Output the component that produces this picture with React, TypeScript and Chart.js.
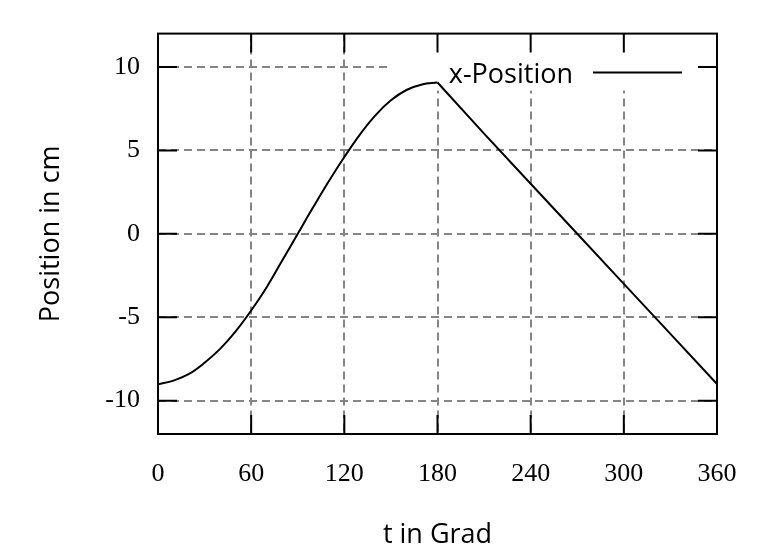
import React, { useEffect, useRef } from "react";
import { Chart, registerables } from "chart.js";

Chart.register(...registerables);

// crank angle in degrees and x-position in cm
// rising part (0..180) is curved, falling part (180..360) is straight
const tRise = [0, 10, 20, 30, 40, 50, 60, 70, 80, 90, 100, 110, 120, 130, 140, 150, 160, 170, 180];
const xRise = [-9.02, -8.8, -8.4, -7.73, -6.9, -5.85, -4.6, -3.2, -1.6, 0.0, 1.6, 3.15, 4.6, 5.95, 7.1, 8.0, 8.62, 8.95, 9.07];
const tFall = [180, 210, 240, 270, 300, 330, 360];
const xFall = [9.07, 6.0, 3.0, 0.0, -3.0, -6.0, -9.0];

const xTicks = [0, 60, 120, 180, 240, 300, 360];
const yTicks = [-10, -5, 0, 5, 10];

const SANS = "'Open Sans', sans-serif";
const SERIF = "'Liberation Serif', serif";
const TICK_LEN = 19;
const GRID = "#858585";

// gnuplot-like frame: inner ticks, opaque key box, key text
const framePlugin = {
  id: "frame",
  beforeDatasetsDraw(chart: any) {
    const { ctx, chartArea } = chart;
    ctx.save();
    ctx.fillStyle = "#fff";
    ctx.fillRect(chartArea.right - 325, chartArea.top, 306, 57);
    ctx.restore();
  },
  afterDraw(chart: any) {
    const { ctx, chartArea, scales } = chart;
    const { left, right, top, bottom } = chartArea;
    ctx.save();
    ctx.strokeStyle = "#000";
    ctx.lineWidth = 2;
    ctx.setLineDash([]);
    ctx.beginPath();
    xTicks.slice(1, -1).forEach((v) => {
      const px = scales.x.getPixelForValue(v);
      ctx.moveTo(px, bottom);
      ctx.lineTo(px, bottom - TICK_LEN);
      ctx.moveTo(px, top);
      ctx.lineTo(px, top + TICK_LEN);
    });
    yTicks.forEach((v) => {
      const py = scales.y.getPixelForValue(v);
      ctx.moveTo(left, py);
      ctx.lineTo(left + TICK_LEN, py);
      ctx.moveTo(right, py);
      ctx.lineTo(right - TICK_LEN, py);
    });
    ctx.stroke();
    ctx.strokeRect(left, top, right - left, bottom - top);

    // key
    ctx.fillStyle = "#000";
    ctx.font = `27px ${SANS}`;
    ctx.textAlign = "right";
    ctx.textBaseline = "alphabetic";
    ctx.fillText("x-Position", right - 144, top + 49);
    ctx.beginPath();
    ctx.moveTo(right - 124, top + 39);
    ctx.lineTo(right - 35, top + 39);
    ctx.stroke();
    ctx.restore();
  },
};

export default function App() {
  const canvasRef = useRef<HTMLCanvasElement | null>(null);
  const chartRef = useRef<Chart | null>(null);

  useEffect(() => {
    document.body.style.margin = "0";
    if (!canvasRef.current) return;
    const ctx = canvasRef.current.getContext("2d");
    if (!ctx) return;
    if (chartRef.current) chartRef.current.destroy();

    chartRef.current = new Chart(ctx, {
      type: "line",
      data: {
        datasets: [
          {
            label: "x-Position",
            data: tRise.map((t, i) => ({ x: t, y: xRise[i] })),
            borderColor: "#000",
            borderWidth: 2,
            pointRadius: 0,
            fill: false,
            tension: 0.4,
          },
          {
            label: "x-Position (fall)",
            data: tFall.map((t, i) => ({ x: t, y: xFall[i] })),
            borderColor: "#000",
            borderWidth: 2,
            pointRadius: 0,
            fill: false,
            tension: 0,
          },
        ],
      },
      options: {
        responsive: false,
        animation: false,
        layout: { padding: { left: 0, top: 33, right: 57, bottom: 0 } },
        plugins: {
          legend: { display: false },
          tooltip: { enabled: false },
        },
        scales: {
          x: {
            type: "linear",
            min: 0,
            max: 360,
            afterBuildTicks: (axis: any) => {
              axis.ticks = xTicks.map((v) => ({ value: v }));
            },
            afterFit: (axis: any) => {
              axis.height = 126;
            },
            ticks: {
              font: { family: SERIF, size: 26 },
              color: "#000",
              padding: 25,
              maxRotation: 0,
            },
            grid: {
              drawTicks: false,
              color: (c: any) =>
                c.tick && (c.tick.value === 0 || c.tick.value === 360) ? "rgba(0,0,0,0)" : GRID,
              lineWidth: 2,
            },
            border: { display: false, dash: [8, 5] },
            title: {
              display: true,
              text: "t in Grad",
              font: { family: SANS, size: 27 },
              color: "#000",
              padding: { top: 0, bottom: 8 },
            },
          },
          y: {
            type: "linear",
            min: -12,
            max: 12,
            afterBuildTicks: (axis: any) => {
              axis.ticks = yTicks.map((v) => ({ value: v }));
            },
            afterFit: (axis: any) => {
              axis.width = 158;
            },
            ticks: {
              font: { family: SERIF, size: 26 },
              color: "#000",
              padding: 18,
            },
            grid: {
              drawTicks: false,
              color: GRID,
              lineWidth: 2,
            },
            border: { display: false, dash: [8, 5] },
            title: {
              display: true,
              text: "Position in cm",
              font: { family: SANS, size: 27 },
              color: "#000",
              padding: { top: 35, bottom: 0 },
            },
          },
        },
      },
      plugins: [framePlugin],
    });

    return () => {
      if (chartRef.current) {
        chartRef.current.destroy();
        chartRef.current = null;
      }
    };
  }, []);

  return (
    <div style={{ width: 774, height: 560 }}>
      <canvas ref={canvasRef} width={774} height={560} />
    </div>
  );
}
